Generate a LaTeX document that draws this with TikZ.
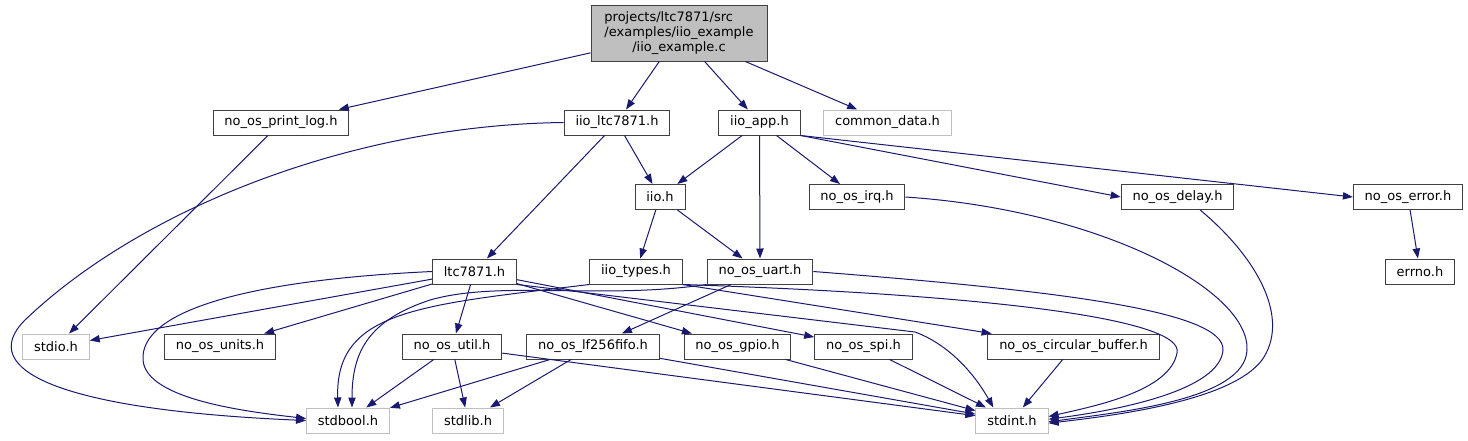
\documentclass[tikz,border=0pt]{standalone}
\usepackage{fontspec}
\setmainfont{DejaVu Sans}
\usetikzlibrary{arrows.meta}
\definecolor{edgeblue}{HTML}{191970}
\definecolor{boxline}{HTML}{404040}
\definecolor{ghost}{HTML}{BFBFBF}

\begin{document}
\begin{tikzpicture}[x=0.75pt,y=-0.75pt]
\tikzset{hdr/.style={draw=boxline,line width=0.75pt,fill=white,inner xsep=8.5pt,inner ysep=0pt,minimum height=18.75pt,font=\fontsize{9.75}{11.25}\selectfont},
  sys/.style={hdr,draw=ghost},
  dep/.style={draw=edgeblue,line width=0.75pt,-{Triangle[length=7.5pt,width=5.5pt]}}}
\useasboundingbox (0,0) rectangle (1468,440);

\path (679,33) node[hdr,fill=ghost,minimum width=132pt,minimum height=42pt,inner xsep=0pt] (main)
  {\begin{tabular}{@{}l@{}}projects/ltc7871/src\\/examples/iio\_example\\\multicolumn{1}{@{}c@{}}{/iio\_example.c}\end{tabular}};
\path (281,122.5) node[hdr] (printlog) {no\_os\_print\_log.h};
\path (617,122.5) node[hdr] (iioltc) {iio\_ltc7871.h};
\path (759.5,122.5) node[hdr] (iioapp) {iio\_app.h};
\path (887.5,122.5) node[sys] (commondata) {common\_data.h};
\path (660,197) node[hdr] (iio) {iio.h};
\path (857,197) node[hdr] (irq) {no\_os\_irq.h};
\path (1177.5,197) node[hdr] (delay) {no\_os\_delay.h};
\path (1408,197) node[hdr] (error) {no\_os\_error.h};
\path (474.5,271.5) node[hdr] (ltc) {ltc7871.h};
\path (636,271.5) node[hdr] (types) {iio\_types.h};
\path (760,271.5) node[hdr] (uart) {no\_os\_uart.h};
\path (1420,271.5) node[hdr] (errno) {errno.h};
\path (56,346.5) node[sys] (stdio) {stdio.h};
\path (220,346.5) node[hdr] (units) {no\_os\_units.h};
\path (452,346.5) node[hdr] (util) {no\_os\_util.h};
\path (593,346.5) node[hdr] (fifo) {no\_os\_lf256fifo.h};
\path (737.5,346.5) node[hdr] (gpio) {no\_os\_gpio.h};
\path (863.5,346.5) node[hdr] (spi) {no\_os\_spi.h};
\path (1073.5,346.5) node[hdr] (circbuf) {no\_os\_circular\_buffer.h};
\path (348,420.5) node[sys] (stdbool) {stdbool.h};
\path (468,420.5) node[sys] (stdlib) {stdlib.h};
\path (1012,420.5) node[sys] (stdint) {stdint.h};

\draw[dep] (main) -- (printlog);
\draw[dep] (main) -- (iioltc);
\draw[dep] (main) -- (iioapp);
\draw[dep] (main) -- (commondata);
\draw[dep] (printlog) -- (stdio);
\draw[dep] (iioltc.west) .. controls (350,125) and (140,210) .. (25,320)
  .. controls (-25,370) and (60,410) .. (stdbool.west);
\draw[dep] (iioltc) -- (ltc);
\draw[dep] (iioltc) -- (iio);
\draw[dep] (iioapp) -- (iio);
\draw[dep] (iioapp.south) -- (uart.north);
\draw[dep] (iioapp) -- (irq);
\draw[dep] (iioapp.south east) -- (delay.west);
\draw[dep] (iioapp.south east) -- (error.west);
\draw[dep] (iio) -- (types);
\draw[dep] (iio) -- (uart);
\draw[dep] (irq.east) .. controls (1100,210) and (1250,290) .. (1247,350)
  .. controls (1245,400) and (1120,412) .. ([yshift=-1pt]stdint.east);
\draw[dep] ([xshift=17pt]delay.south) .. controls (1260,260) and (1290,320) .. (1262,360)
  .. controls (1232,400) and (1120,415) .. ([yshift=-2pt]stdint.east);
\draw[dep] (error) -- (errno);
\draw[dep] (ltc) -- (stdio);
\draw[dep] (ltc.west) .. controls (250,280) and (140,310) .. (143,360)
  .. controls (146,400) and (250,412) .. ([yshift=1.5pt]stdbool.west);
\draw[dep] (ltc) -- (units);
\draw[dep] (ltc) -- (util);
\draw[dep] (ltc) -- (gpio);
\draw[dep] (ltc) -- (spi);
\draw[dep] (ltc.south east) -- (915,332) .. controls (950,345) and (975,375) .. ([xshift=-14pt]stdint.north);
\draw[dep] (types.south west) .. controls (420,305) and (335,310) .. ([xshift=-7.5pt]stdbool.north);
\draw[dep] (types.south east) -- (circbuf);
\draw[dep] (types.south east) .. controls (1000,295) and (1185,320) .. (1177,353)
  .. controls (1170,390) and (1100,405) .. ([yshift=3pt]stdint.east);
\draw[dep] (uart.south west) .. controls (600,300) and (500,280) .. (430,300)
  .. controls (370,320) and (352,350) .. ([xshift=3pt]stdbool.north);
\draw[dep] (uart) -- (fifo);
\draw[dep] (uart.east) .. controls (1050,290) and (1225,310) .. (1223,350)
  .. controls (1220,390) and (1120,410) .. ([yshift=1pt]stdint.east);
\draw[dep] (util) -- (stdbool);
\draw[dep] (util) -- (stdlib);
\draw[dep] (util) -- (stdint);
\draw[dep] (fifo) -- (stdbool);
\draw[dep] (fifo) -- (stdlib);
\draw[dep] (fifo) -- (stdint);
\draw[dep] (gpio) -- (stdint);
\draw[dep] (spi) -- (stdint);
\draw[dep] (circbuf) -- (stdint);
\end{tikzpicture}
\end{document}
